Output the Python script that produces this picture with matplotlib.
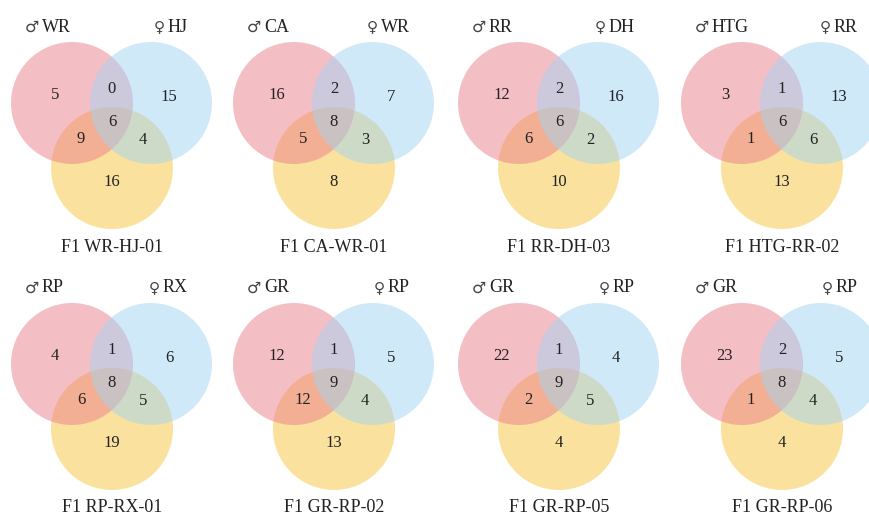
import matplotlib.pyplot as plt
from matplotlib.patches import Circle

plt.rcParams['font.family'] = ['Liberation Serif', 'DejaVu Serif', 'DejaVu Sans']

# cruzamentos F1: macho, femea e titulo de cada diagrama
machos = ['WR', 'CA', 'RR', 'HTG', 'RP', 'GR', 'GR', 'GR']
femeas = ['HJ', 'WR', 'DH', 'RR', 'RX', 'RP', 'RP', 'RP']
titulos = ['F1 WR-HJ-01', 'F1 CA-WR-01', 'F1 RR-DH-03', 'F1 HTG-RR-02',
           'F1 RP-RX-01', 'F1 GR-RP-02', 'F1 GR-RP-05', 'F1 GR-RP-06']

# contagens por regiao:
# so macho, macho∩femea, so femea, todos, macho∩F1, femea∩F1, so F1
so_macho = [5, 16, 12, 3, 4, 12, 22, 23]
macho_femea = [0, 2, 2, 1, 1, 1, 1, 2]
so_femea = [15, 7, 16, 13, 6, 5, 4, 5]
todos = [6, 8, 6, 6, 8, 9, 9, 8]
macho_f1 = [9, 5, 6, 1, 6, 12, 2, 1]
femea_f1 = [4, 3, 2, 6, 5, 4, 5, 4]
so_f1 = [16, 8, 10, 13, 19, 13, 4, 4]

cor_macho = '#ea7f8c'
cor_femea = '#a3d4f2'
cor_f1 = '#f9c53e'

centros_x = [112, 334, 559, 782]
centros_y = [103, 364]
raio = 61

fig = plt.figure(figsize=(8.7, 5.18), dpi=100)
ax = fig.add_axes([0, 0, 1, 1])
ax.set_xlim(0, 870)
ax.set_ylim(518, 0)
ax.set_aspect('equal')
ax.axis('off')

for i in range(8):
    cx = centros_x[i % 4]
    cy = centros_y[i // 4]

    ax.add_patch(Circle((cx, cy + 65), raio, facecolor=cor_f1, alpha=0.5, lw=0))
    ax.add_patch(Circle((cx - 40, cy), raio, facecolor=cor_macho, alpha=0.5, lw=0))
    ax.add_patch(Circle((cx + 39, cy), raio, facecolor=cor_femea, alpha=0.5, lw=0))

    regioes = [(so_macho[i], -57, -8), (macho_femea[i], 0, -14),
               (so_femea[i], 57, -6), (todos[i], 0, 19),
               (macho_f1[i], -31, 36), (femea_f1[i], 31, 37),
               (so_f1[i], 0, 79)]
    for valor, dx, dy in regioes:
        ax.text(cx + dx, cy + dy, str(valor), ha='center', va='center',
                fontsize=12, color='#222222')

    # nome do macho com o simbolo logo antes
    nm = ax.text(cx - 70, cy - 76, machos[i], ha='left', va='center',
                 fontsize=13, color='#222222')
    ax.annotate('\u2642', xy=(0, 0.5), xycoords=nm, xytext=(-2, 0),
                textcoords='offset points', ha='right', va='center',
                fontsize=11.5, color='#444444', family='DejaVu Sans')

    # nome da femea alinhado a direita e simbolo antes dele
    nf = ax.text(cx + 76, cy - 76, femeas[i], ha='right', va='center',
                 fontsize=13, color='#222222')
    ax.annotate('\u2640', xy=(0, 0.5), xycoords=nf, xytext=(-2, 0),
                textcoords='offset points', ha='right', va='center',
                fontsize=11, color='#444444', family='DejaVu Sans')

    ax.text(cx, cy + 144, titulos[i], ha='center', va='center',
            fontsize=13, color='#222222')

fig.savefig('out.png', dpi=100)
